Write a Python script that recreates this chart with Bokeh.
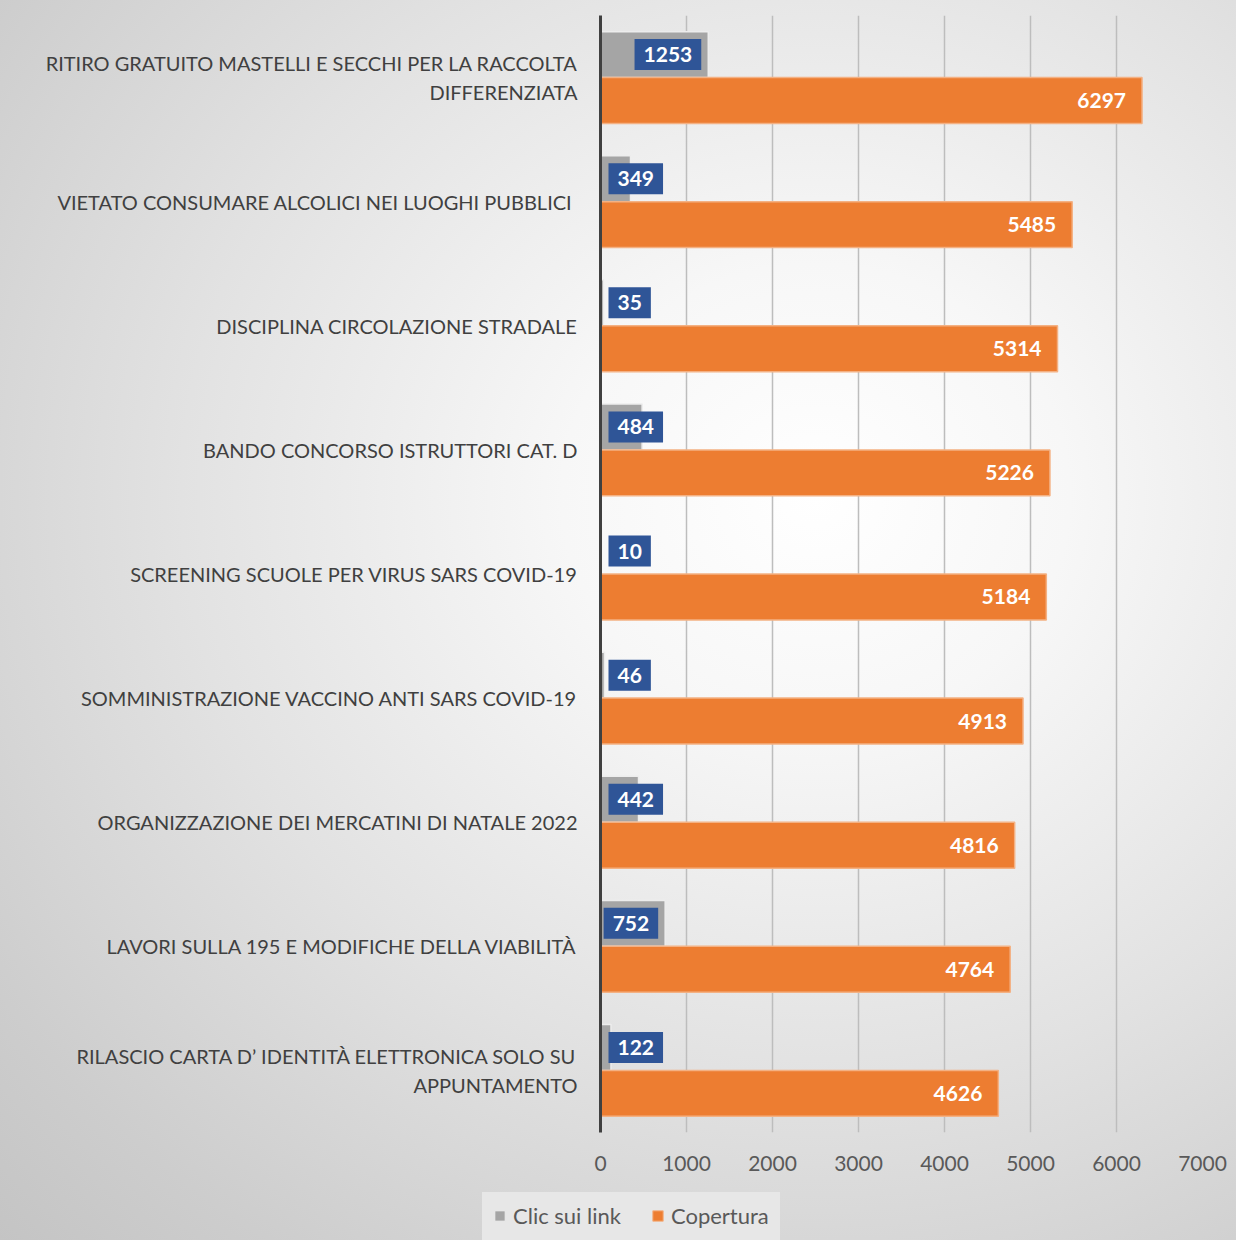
from bokeh.plotting import figure
from bokeh.layouts import column, row
from bokeh.models import ColumnDataSource, FactorRange, Range1d, Legend, LegendItem, FixedTicker
from bokeh.transform import dodge
from bokeh.core.properties import value
from bokeh.embed import file_html
from bokeh.resources import INLINE

categories = [
    "RITIRO GRATUITO MASTELLI E SECCHI PER LA RACCOLTA\nDIFFERENZIATA",
    "VIETATO CONSUMARE ALCOLICI NEI LUOGHI PUBBLICI ",
    "DISCIPLINA CIRCOLAZIONE STRADALE",
    "BANDO CONCORSO ISTRUTTORI CAT. D",
    "SCREENING SCUOLE PER VIRUS SARS COVID-19",
    "SOMMINISTRAZIONE VACCINO ANTI SARS COVID-19",
    "ORGANIZZAZIONE DEI MERCATINI DI NATALE 2022",
    "LAVORI SULLA 195 E MODIFICHE DELLA VIABILITÀ",
    "RILASCIO CARTA D\u2019 IDENTITÀ ELETTRONICA SOLO SU\nAPPUNTAMENTO",
]
clic = [1253, 349, 35, 484, 10, 46, 442, 752, 122]
copertura = [6297, 5485, 5314, 5226, 5184, 4913, 4816, 4764, 4626]
x_ticks = [0, 1000, 2000, 3000, 4000, 5000, 6000, 7000]
series_names = ["Clic sui link", "Copertura"]

FONT = "Lato"
GRAY = "#A5A5A5"
ORANGE = "#ED7D31"
BLUE = "#2F5597"
GRAY_EDGE = "#EDEDED"
ORANGE_EDGE = "#F4B183"

frame_w, frame_h = 602, 1117
px_per_unit = frame_w / 7000.0

p = figure(
    y_range=FactorRange(*reversed(categories), range_padding=0),
    x_range=Range1d(0, 7000),
    frame_width=frame_w, frame_height=frame_h,
    min_border_left=600, min_border_right=34, min_border_top=15, min_border_bottom=60,
    output_backend="svg", toolbar_location=None, tools="",
)
p.background_fill_alpha = 0
p.border_fill_alpha = 0
p.outline_line_color = None

src = ColumnDataSource(dict(cat=categories, clic=clic, cop=copertura,
                            clic_s=[str(v) for v in clic], cop_s=[str(v) for v in copertura]))

p.hbar(y=dodge("cat", 0.185, range=p.y_range), right="clic", left=0, height=0.37,
       source=src, fill_color=GRAY, line_color=GRAY_EDGE, line_width=1.5)
p.hbar(y=dodge("cat", -0.185, range=p.y_range), right="cop", left=0, height=0.37,
       source=src, fill_color=ORANGE, line_color=ORANGE_EDGE, line_width=1.5)

# data labels for clicks: inside end if they fit, otherwise at the base
def label_w(v):
    return {1: 30, 2: 41, 3: 54, 4: 65}[len(str(v))]

inside = dict(cat=[], v=[], s=[])
base = dict(cat=[], v=[], s=[])
for c, v in zip(categories, clic):
    d = inside if v * px_per_unit - 4 - label_w(v) >= 6 else base
    d["cat"].append(c); d["v"].append(v); d["s"].append(str(v))

common = dict(text_color="white", text_font=value(FONT), text_font_style="bold",
              text_font_size="21px", background_fill_color=BLUE, padding=(9, 8))
p.text(x="v", y=dodge("cat", 0.185, range=p.y_range), text="s", source=ColumnDataSource(inside),
       anchor="center_right", x_offset=-7, **common)
p.text(x=0, y=dodge("cat", 0.185, range=p.y_range), text="s", source=ColumnDataSource(base),
       anchor="center_left", x_offset=8, **common)

p.text(x="cop", y=dodge("cat", -0.185, range=p.y_range), text="cop_s", source=src,
       anchor="center_right", x_offset=-16, text_color="white", text_font=value(FONT),
       text_font_style="bold", text_font_size="21px")

# axes
p.xaxis.ticker = FixedTicker(ticks=x_ticks)
p.xaxis.axis_line_color = None
p.xaxis.major_tick_line_color = None
p.xaxis.minor_tick_line_color = None
p.xaxis.major_label_text_font = FONT
p.xaxis.major_label_text_font_size = "21px"
p.xaxis.major_label_text_color = "#595959"
p.xaxis.major_label_standoff = 17

p.yaxis.axis_line_color = "#404040"
p.yaxis.axis_line_width = 3
p.yaxis.major_tick_line_color = None
p.yaxis.minor_tick_line_color = None
p.yaxis.major_label_text_font = FONT
p.yaxis.major_label_text_font_size = "20px"
p.yaxis.major_label_text_color = "#404040"
p.yaxis.major_label_standoff = 17

p.xgrid.ticker = FixedTicker(ticks=x_ticks)
p.xgrid.grid_line_color = "#BDBDBD"
p.xgrid.grid_line_width = 1.5
p.ygrid.grid_line_color = None

# legend strip below the chart (its swatch renderers draw nothing inside this strip's ranges)
pl = figure(width=frame_w + 600 + 34, height=48, x_range=Range1d(0, 1), y_range=Range1d(0, 1),
            min_border=0, output_backend="svg", toolbar_location=None, tools="")
pl.axis.visible = False
pl.grid.grid_line_color = None
pl.outline_line_color = None
pl.background_fill_alpha = 0
pl.border_fill_alpha = 0
lg_clic = pl.hbar(y="clic", right="clic", left="clic", height=0, source=src,
                  fill_color=GRAY, line_color=GRAY_EDGE)
lg_cop = pl.hbar(y="cop", right="cop", left="cop", height=0, source=src,
                 fill_color=ORANGE, line_color=ORANGE_EDGE)

legend = Legend(items=[LegendItem(label=series_names[0], renderers=[lg_clic], index=0),
                       LegendItem(label=series_names[1], renderers=[lg_cop], index=0)],
                location=(482, 0), orientation="horizontal")
legend.background_fill_color = "#E7E7E7"
legend.background_fill_alpha = 1
legend.border_line_alpha = 0
legend.label_text_font = FONT
legend.label_text_font_size = "22px"
legend.label_text_color = "#595959"
legend.glyph_width = 13
legend.glyph_height = 13
legend.label_standoff = 7
legend.spacing = 30
legend.padding = 11
legend.margin = 0
pl.add_layout(legend, "center")

layout = column(p, row(pl), spacing=0)
layout.styles = {"background": "radial-gradient(ellipse at 66% 40%, #ffffff 0%, #f7f7f7 22%, #e2e2e2 55%, #cdcdcd 85%, #c4c4c4 100%)"}

open("out.html", "w").write(file_html(layout, INLINE))
